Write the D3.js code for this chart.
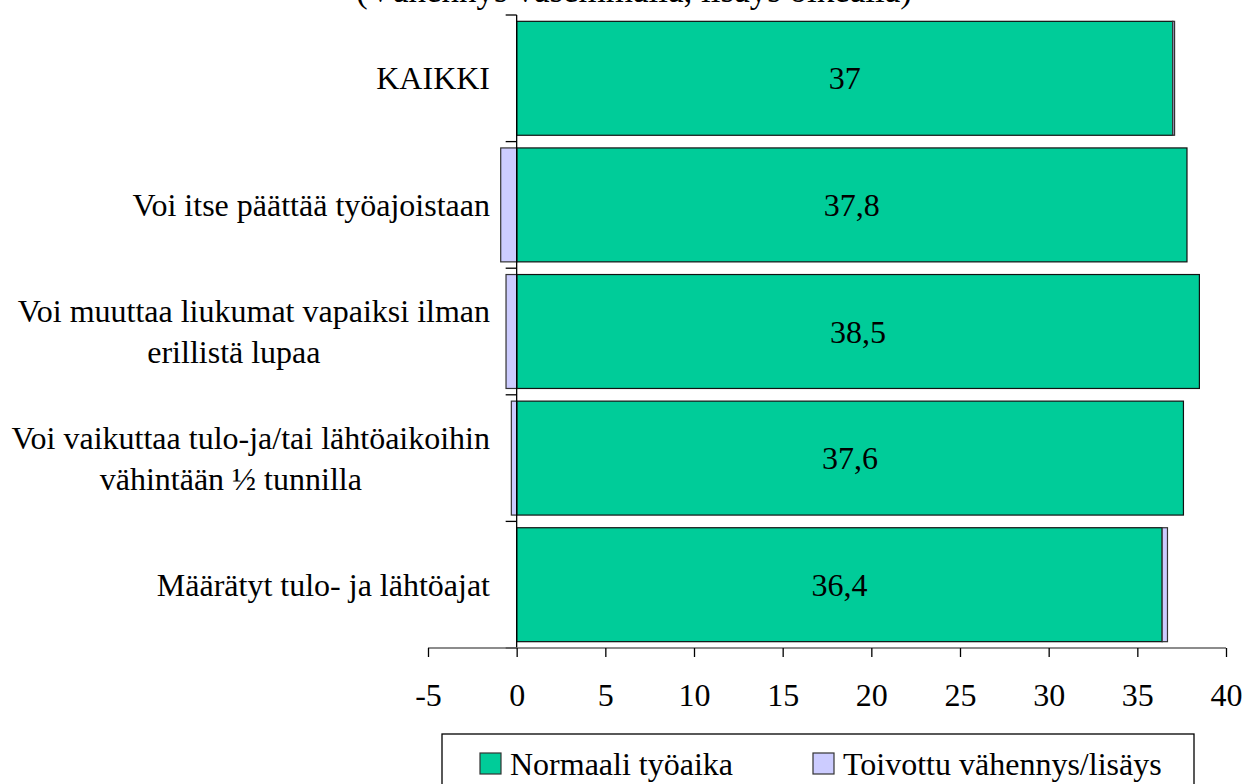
<!DOCTYPE html>
<html>
<head>
<meta charset="utf-8">
<script src="https://cdn.jsdelivr.net/npm/d3@7"></script>
<style>
	body { margin: 0; background: white; }
</style>
</head>
<body>
<svg id="chart" width="1246" height="784"></svg>
<script>

// The categories (each one split in the lines of its label):
var categories = [
	["KAIKKI"],
	["Voi itse päättää työajoistaan"],
	["Voi muuttaa liukumat vapaiksi ilman", "erillistä lupaa"],
	["Voi vaikuttaa tulo-ja/tai lähtöaikoihin", "vähintään ½ tunnilla"],
	["Määrätyt tulo- ja lähtöajat"]
];

// Normal working time (hours per week):
var normalHours = [37, 37.8, 38.5, 37.6, 36.4];

// Wished decrease (negative) or increase (positive):
var wishedChange = [0.1, -0.9, -0.6, -0.3, 0.3];

var xTicks = [-5, 0, 5, 10, 15, 20, 25, 30, 35, 40];

var seriesNames = ["Normaali työaika", "Toivottu vähennys/lisäys"];
var seriesColors = ["#00CC99", "#CCCCFF"];

var title = "(Vähennys vasemmalla, lisäys oikealla)";

var FONT = "'Liberation Serif', 'Times New Roman', Times, serif";

var svg = d3.select("#chart");

// Finnish decimal comma, and a plain hyphen for negative numbers:
var fiLocale = d3.formatLocale({ decimal: ",", thousands: " ", grouping: [3], currency: ["", " €"], minus: "-" });
var fmt = fiLocale.format("~g");

var x = d3.scaleLinear().domain([-5, 40]).range([428, 1226]);

var y = d3.scaleBand()
	.domain(d3.range(categories.length))
	.range([15, 648])
	.paddingInner(0.1)
	.paddingOuter(0.05);

var step = y.step();

// The rows of data:
var rows = categories.map(function(c, i) {
	return { lines: c, normal: normalHours[i], change: wishedChange[i], i: i };
});

// The title (mostly out of the picture, at its top):
svg.append("text")
	.attr("x", 634)
	.attr("y", 2)
	.attr("text-anchor", "middle")
	.style("font-family", FONT)
	.style("font-size", "35px")
	.text(title);

// The green bars:
svg.selectAll("rect.normal")
	.data(rows)
	.enter().append("rect")
	.attr("class", "normal")
	.attr("x", x(0))
	.attr("y", function(d) { return y(d.i); })
	.attr("width", function(d) { return x(d.normal) - x(0); })
	.attr("height", y.bandwidth())
	.attr("fill", seriesColors[0])
	.attr("stroke", "#111")
	.attr("stroke-width", 1.2);

// The wished change, left of 0 if negative, after the green bar if positive:
svg.selectAll("rect.change")
	.data(rows)
	.enter().append("rect")
	.attr("class", "change")
	.attr("x", function(d) { return d.change < 0 ? x(d.change) : x(d.normal); })
	.attr("y", function(d) { return y(d.i); })
	.attr("width", function(d) { return Math.abs(x(d.change) - x(0)); })
	.attr("height", y.bandwidth())
	.attr("fill", seriesColors[1])
	.attr("stroke", "#333")
	.attr("stroke-width", 1.2);

// The values inside the green bars:
svg.selectAll("text.value")
	.data(rows)
	.enter().append("text")
	.attr("class", "value")
	.attr("x", function(d) { return (x(0) + x(d.normal)) / 2; })
	.attr("y", function(d) { return y(d.i) + y.bandwidth() / 2 + 11; })
	.attr("text-anchor", "middle")
	.style("font-family", FONT)
	.style("font-size", "32px")
	.text(function(d) { return fmt(d.normal); });

// The vertical axis line and its ticks between categories:
svg.append("line")
	.attr("x1", x(0)).attr("x2", x(0))
	.attr("y1", 15).attr("y2", 648)
	.attr("stroke", "black")
	.attr("stroke-width", 1.3);

svg.selectAll("line.ytick")
	.data(d3.range(categories.length + 1))
	.enter().append("line")
	.attr("class", "ytick")
	.attr("x1", x(0) - 11).attr("x2", x(0))
	.attr("y1", function(k) { return 15 + k * step; })
	.attr("y2", function(k) { return 15 + k * step; })
	.attr("stroke", "black")
	.attr("stroke-width", 1.3);

// The category labels (lines centered, block aligned on the right):
var labels = svg.selectAll("g.label")
	.data(rows)
	.enter().append("g")
	.attr("class", "label");

labels.each(function(d) {
	var g = d3.select(this);
	var cy = y(d.i) + y.bandwidth() / 2 + 11;
	var n = d.lines.length;
	var texts = g.selectAll("text")
		.data(d.lines)
		.enter().append("text")
		.style("font-family", FONT)
		.style("font-size", "32px")
		.attr("text-anchor", "middle")
		.attr("y", function(l, k) { return cy + (k - (n - 1) / 2) * 41; })
		.text(function(l) { return l; });
	var w = d3.max(texts.nodes(), function(t) { return t.getComputedTextLength(); });
	texts.attr("x", function(l, k) { return 490 - w / 2 - (k > 0 ? 20 : 0); });
});

// The horizontal axis:
var xAxis = d3.axisBottom(x)
	.tickValues(xTicks)
	.tickSize(9)
	.tickPadding(26)
	.tickFormat(fmt);

var axisG = svg.append("g")
	.attr("transform", "translate(0,648)")
	.call(xAxis);

axisG.select(".domain")
	.attr("stroke", "#666")
	.attr("stroke-width", 1.3)
	.attr("d", "M" + x(-5) + ",0H" + x(40));

axisG.selectAll(".tick line")
	.attr("stroke", "black")
	.attr("stroke-width", 1.3);

axisG.selectAll(".tick text")
	.style("font-family", FONT)
	.style("font-size", "32px")
	.attr("fill", "black");

// The legend:
var legend = svg.append("g");

legend.append("rect")
	.attr("x", 442)
	.attr("y", 734)
	.attr("width", 752)
	.attr("height", 80)
	.attr("fill", "white")
	.attr("stroke", "black")
	.attr("stroke-width", 1.3);

var legendX = [480, 813];

seriesNames.forEach(function(name, i) {
	legend.append("rect")
		.attr("x", legendX[i])
		.attr("y", 753)
		.attr("width", 21)
		.attr("height", 21)
		.attr("fill", seriesColors[i])
		.attr("stroke", "#333")
		.attr("stroke-width", 1.2);
	legend.append("text")
		.attr("x", legendX[i] + 30)
		.attr("y", 775)
		.style("font-family", FONT)
		.style("font-size", "32px")
		.text(name);
});

</script>
</body>
</html>
